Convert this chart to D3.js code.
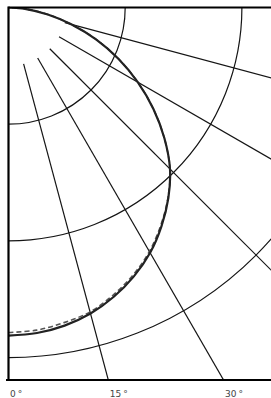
<!DOCTYPE html>
<html>
<head>
<meta charset="utf-8">
<script src="https://cdn.jsdelivr.net/npm/d3@7"></script>
<style>
html,body{margin:0;padding:0;background:#fff;}
svg{display:block;}
</style>
</head>
<body>
<svg id="chart" width="271" height="398"></svg>
<script>
// ---- data ----
const angles = [0,5,10,15,20,25,30,35,40,45,50,55,60,65,70,75,80,85,90];
const solidValues = [2.811,2.800,2.768,2.715,2.638,2.542,2.427,2.286,2.131,1.957,1.744,1.516,1.279,1.039,0.798,0.560,0.342,0.152,0];
const dashedValues = [2.785,2.775,2.742,2.700,2.622,2.528,2.414,2.276,2.126,1.957,1.744,1.516,1.279,1.039,0.798,0.560,0.342,0.152,0];
const ringValues = [1,2,3,4];
const spokeAngles = [15,30,45,60,75];
const spokeStart = 0.5;
const tickAngles = [0,15,30];
const tickLabels = ["0","15","30"];

// ---- layout ----
const W = 271, H = 398;
const cx = 8.5, cy = 7.5, bottomY = 380;
const svg = d3.select("#chart");
const r = d3.scaleLinear().domain([0,1]).range([0,116.7]);
const a = d3.scaleLinear().domain([0,90]).range([Math.PI, Math.PI/2]); // radial angle (clockwise from 12 o'clock)
const rad = d => d*Math.PI/180;

svg.append("defs").append("clipPath").attr("id","clip")
  .append("rect").attr("x",cx).attr("y",cy).attr("width",W-cx+10).attr("height",bottomY-cy);

const g = svg.append("g").attr("clip-path","url(#clip)");
const plot = g.append("g").attr("transform",`translate(${cx},${cy})`);

// rings
ringValues.forEach(v=>{
  const p = d3.path();
  p.arc(0,0,r(v),0,Math.PI/2);
  plot.append("path").attr("d",p.toString()).attr("fill","none")
    .attr("stroke","#151515").attr("stroke-width",1.2);
});

// spokes
spokeAngles.forEach(deg=>{
  const th = rad(deg);
  const r0 = r(spokeStart), r1 = 1000;
  plot.append("line")
    .attr("x1",r0*Math.sin(th)).attr("y1",r0*Math.cos(th))
    .attr("x2",r1*Math.sin(th)).attr("y2",r1*Math.cos(th))
    .attr("stroke","#151515").attr("stroke-width",1.2);
});

// curves
const line = d3.lineRadial().angle(d=>a(d[0])).radius(d=>r(d[1])).curve(d3.curveCatmullRom);
plot.append("path").datum(angles.map((d,i)=>[d,dashedValues[i]]))
  .attr("d",line).attr("fill","none").attr("stroke","#555").attr("stroke-width",1.6)
  .attr("stroke-dasharray","5,3");
plot.append("path").datum(angles.map((d,i)=>[d,solidValues[i]]))
  .attr("d",line).attr("fill","none").attr("stroke","#222").attr("stroke-width",2.2);

// axes frame
svg.append("line").attr("x1",cx).attr("y1",cy).attr("x2",W).attr("y2",cy)
  .attr("stroke","#000").attr("stroke-width",2.2);
svg.append("line").attr("x1",cx).attr("y1",cy-1).attr("x2",cx).attr("y2",bottomY)
  .attr("stroke","#000").attr("stroke-width",2.2);
svg.append("line").attr("x1",6).attr("y1",bottomY).attr("x2",W).attr("y2",bottomY)
  .attr("stroke","#000").attr("stroke-width",2);

// angle labels at bottom edge
tickAngles.forEach((deg,i)=>{
  const x = cx + (bottomY-cy)*Math.tan(rad(deg)) + 1.5;
  const t = svg.append("text").attr("x",x).attr("y",397)
    .attr("font-family","DejaVu Sans, sans-serif").attr("font-size",9)
    .attr("fill","#444");
  t.append("tspan").text(tickLabels[i]);
  t.append("tspan").attr("dx",2).text("°");
});
</script>
</body>
</html>
